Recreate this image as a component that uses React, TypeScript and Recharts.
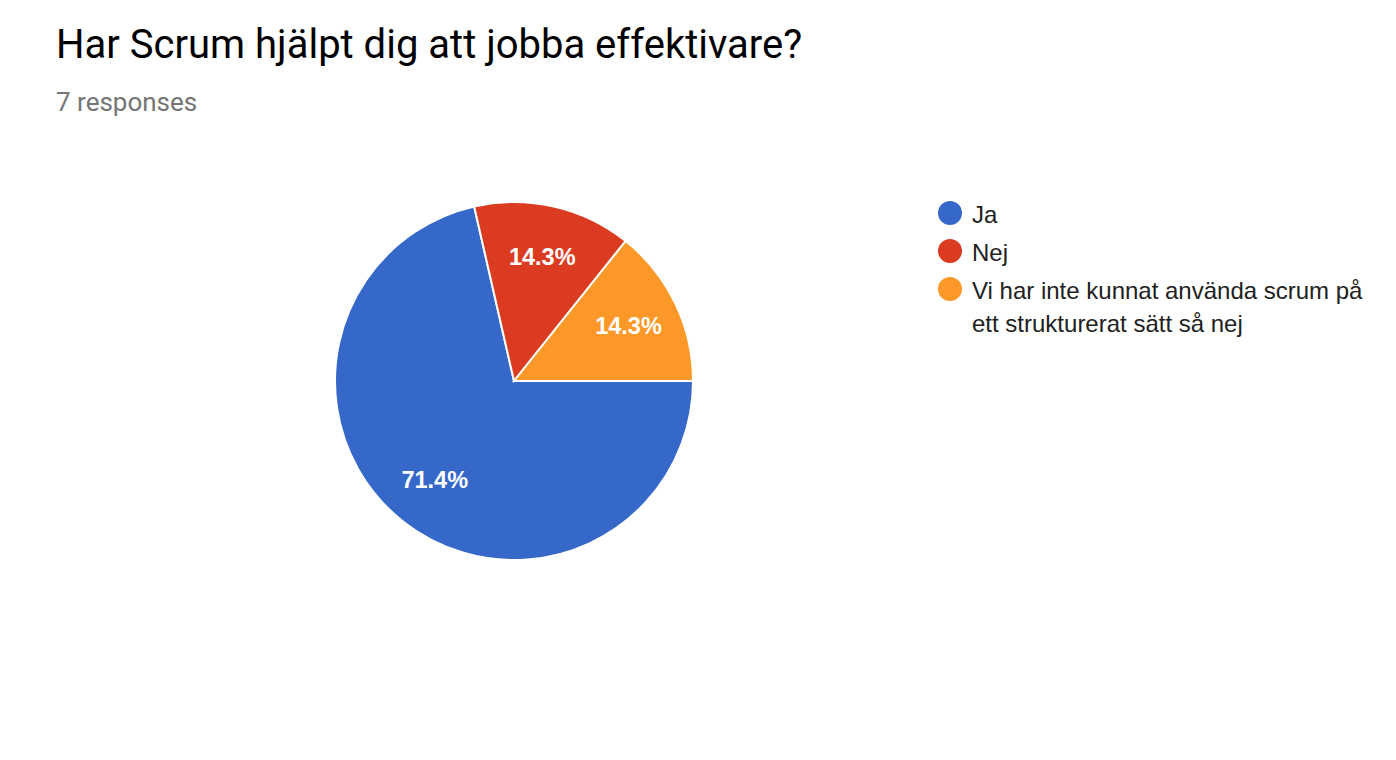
import React from 'react';
import { PieChart, Pie, Cell } from 'recharts';

const categories = ['Ja', 'Nej', 'Vi har inte kunnat använda scrum på ett strukturerat sätt så nej'];
const counts = [5, 1, 1];
const colors = ['#3668c9', '#db3b21', '#fc9827'];
const title = 'Har Scrum hjälpt dig att jobba effektivare?';
const subtitle = '7 responses';

const data = categories.map((name, i) => ({ name, value: counts[i] }));
const total = counts.reduce((a, b) => a + b, 0);

const RAD = Math.PI / 180;
const renderLabel = (props: any) => {
  const { cx, cy, midAngle, outerRadius, value } = props;
  const r = outerRadius * 0.71;
  const x = cx + r * Math.cos(-midAngle * RAD);
  const y = cy + r * Math.sin(-midAngle * RAD);
  return (
    <text x={x} y={y} fill="#ffffff" textAnchor="middle" dominantBaseline="central"
      style={{ fontFamily: 'Liberation Sans, Arial, sans-serif', fontWeight: 700, fontSize: 23.5 }}>
      {((value / total) * 100).toFixed(1)}%
    </text>
  );
};

const LegendBox = () => (
  <div style={{ position: 'absolute', left: 938, top: 198, width: 440, fontFamily: 'Liberation Sans, Arial, sans-serif', fontSize: 24, color: '#212121' }}>
    {categories.map((name, i) => (
      <div key={name} style={{ position: 'relative', paddingLeft: 34, lineHeight: '33px', marginBottom: 5 }}>
        <div style={{ position: 'absolute', left: 0, top: 3, width: 24, height: 24, borderRadius: 12, background: colors[i] }} />
        <div style={{ width: 400 }}>{name}</div>
      </div>
    ))}
  </div>
);

export default function App() {
  return (
    <div style={{ position: 'absolute', left: 0, top: 0, width: 1396, height: 760, background: '#fff' }}>
      <div style={{ position: 'absolute', left: 56, top: 21, fontFamily: 'Roboto, sans-serif', fontSize: 40, lineHeight: 'normal', color: '#000', whiteSpace: 'nowrap' }}>
        {title}
      </div>
      <div style={{ position: 'absolute', left: 56, top: 87, fontFamily: 'Roboto, sans-serif', fontSize: 26, lineHeight: 'normal', color: '#757575', whiteSpace: 'nowrap' }}>
        {subtitle}
      </div>
      <div style={{ position: 'absolute', left: 0, top: 0 }}>
        <PieChart width={1396} height={760} margin={{ top: 0, right: 0, bottom: 0, left: 0 }}>
          <Pie data={data} dataKey="value" nameKey="name" cx={514} cy={381} outerRadius={179}
            startAngle={0} endAngle={-360} stroke="#ffffff" strokeWidth={2}
            label={renderLabel} labelLine={false} isAnimationActive={false}>
            {data.map((d, i) => (
              <Cell key={d.name} fill={colors[i]} />
            ))}
          </Pie>
        </PieChart>
      </div>
      <LegendBox />
    </div>
  );
}
